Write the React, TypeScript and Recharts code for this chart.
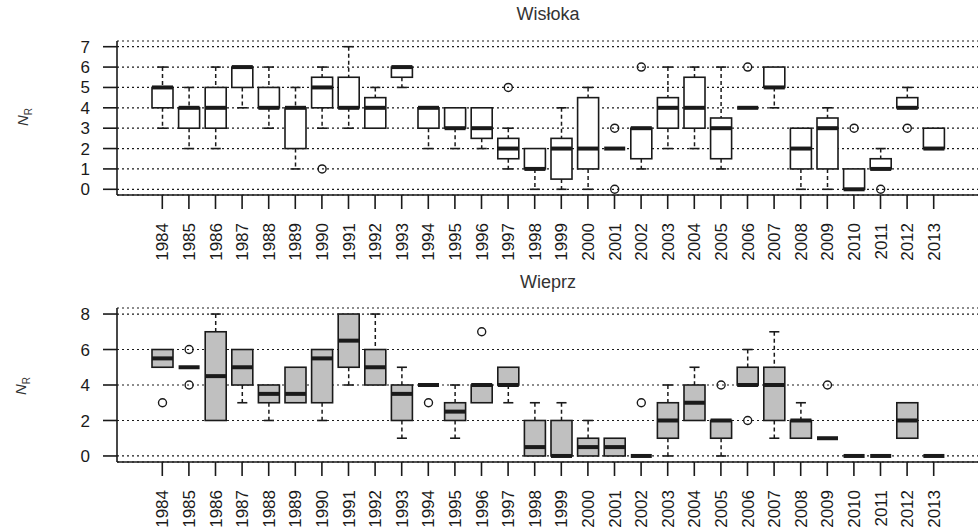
import React from 'react';
import { ComposedChart, Bar, XAxis, YAxis, CartesianGrid } from 'recharts';

const years = [
  '1984', '1985', '1986', '1987', '1988', '1989', '1990', '1991', '1992', '1993',
  '1994', '1995', '1996', '1997', '1998', '1999', '2000', '2001', '2002', '2003',
  '2004', '2005', '2006', '2007', '2008', '2009', '2010', '2011', '2012', '2013',
];

// Wisłoka
const wMin = [3, 2, 2, 4, 3, 1, 3, 3, 3, 5, 2, 2, 2, 1, 0, 0, 0, 2, 1, 2, 2, 1, 4, 4, 0, 0, 0, 1, 4, 2];
const wQ1 = [4, 3, 3, 5, 4, 2, 4, 4, 3, 5.5, 3, 3, 2.5, 1.5, 1, 0.5, 1, 2, 1.5, 3, 3, 1.5, 4, 5, 1, 1, 0, 1, 4, 2];
const wMed = [5, 4, 4, 6, 4, 4, 5, 4, 4, 6, 4, 3, 3, 2, 1, 2, 2, 2, 3, 4, 4, 3, 4, 5, 2, 3, 0, 1, 4, 2];
const wQ3 = [5, 4, 5, 6, 5, 4, 5.5, 5.5, 4.5, 6, 4, 4, 4, 2.5, 2, 2.5, 4.5, 2, 3, 4.5, 5.5, 3.5, 4, 6, 3, 3.5, 1, 1.5, 4.5, 3];
const wMax = [6, 5, 6, 6, 6, 5, 6, 7, 5, 6, 4, 4, 4, 3, 2, 4, 5, 2, 3, 6, 6, 6, 4, 6, 3, 4, 1, 2, 5, 3];
const wOut: number[][] = [
  [], [], [], [], [], [], [1], [], [], [], [], [], [], [5], [], [], [], [3, 0], [6], [],
  [], [], [6], [], [], [], [3], [0], [3], [],
];

// Wieprz
const pMin = [5, 5, 2, 3, 2, 3, 2, 4, 4, 1, 4, 1, 3, 3, 0, 0, 0, 0, 0, 0, 2, 0, 4, 1, 1, 1, 0, 0, 1, 0];
const pQ1 = [5, 5, 2, 4, 3, 3, 3, 5, 4, 2, 4, 2, 3, 4, 0, 0, 0, 0, 0, 1, 2, 1, 4, 2, 1, 1, 0, 0, 1, 0];
const pMed = [5.5, 5, 4.5, 5, 3.5, 3.5, 5.5, 6.5, 5, 3.5, 4, 2.5, 4, 4, 0.5, 0, 0.5, 0.5, 0, 2, 3, 2, 4, 4, 2, 1, 0, 0, 2, 0];
const pQ3 = [6, 5, 7, 6, 4, 5, 6, 8, 6, 4, 4, 3, 4, 5, 2, 2, 1, 1, 0, 3, 4, 2, 5, 5, 2, 1, 0, 0, 3, 0];
const pMax = [6, 5, 8, 6, 4, 5, 6, 8, 8, 5, 4, 4, 4, 5, 3, 3, 2, 1, 0, 4, 5, 2, 6, 7, 3, 1, 0, 0, 3, 0];
const pOut: number[][] = [
  [3], [6, 4], [], [], [], [], [], [], [], [], [3], [], [7], [], [], [], [], [], [3], [],
  [], [4], [2], [], [], [4], [], [], [], [],
];

const wTicks = [0, 1, 2, 3, 4, 5, 6, 7];
const pTicks = [0, 2, 4, 6, 8];

const FONT = '"Liberation Sans", Arial, sans-serif';
const INK = '#1a1a1a';

function buildRows(mn: number[], q1: number[], md: number[], q3: number[], mx: number[], out: number[][]) {
  return years.map((year, i) => ({
    year,
    box: [q1[i], q3[i]],
    med: [md[i], md[i]],
    hi: [q3[i], mx[i]],
    lo: [mn[i], q1[i]],
    o1: out[i].length > 0 ? [out[i][0], out[i][0]] : null,
    o2: out[i].length > 1 ? [out[i][1], out[i][1]] : null,
  }));
}

const wRows = buildRows(wMin, wQ1, wMed, wQ3, wMax, wOut);
const pRows = buildRows(pMin, pQ1, pMed, pQ3, pMax, pOut);

const boxShape = (fill: string) => (p: any) => (
  <rect x={p.x} y={p.y} width={p.width} height={Math.max(p.height, 0)} fill={fill} stroke={INK} strokeWidth={1.6} />
);

const medShape = (p: any) => (
  <line x1={p.x} x2={p.x + p.width} y1={p.y} y2={p.y} stroke={INK} strokeWidth={4} />
);

const hiShape = (p: any) => {
  if (!(p.height > 0.5)) return <g />;
  const cx = p.x + p.width / 2;
  const cap = p.width * 0.24;
  return (
    <g>
      <line x1={cx} x2={cx} y1={p.y} y2={p.y + p.height} stroke={INK} strokeWidth={1.5} strokeDasharray="4 3" />
      <line x1={cx - cap} x2={cx + cap} y1={p.y} y2={p.y} stroke={INK} strokeWidth={1.6} />
    </g>
  );
};

const loShape = (p: any) => {
  if (!(p.height > 0.5)) return <g />;
  const cx = p.x + p.width / 2;
  const cap = p.width * 0.24;
  const yb = p.y + p.height;
  return (
    <g>
      <line x1={cx} x2={cx} y1={p.y} y2={yb} stroke={INK} strokeWidth={1.5} strokeDasharray="4 3" />
      <line x1={cx - cap} x2={cx + cap} y1={yb} y2={yb} stroke={INK} strokeWidth={1.6} />
    </g>
  );
};

const outShape = (key: 'o1' | 'o2') => (p: any) => {
  if (!p.payload || p.payload[key] == null) return <g />;
  return <circle cx={p.x + p.width / 2} cy={p.y} r={4} fill="none" stroke={INK} strokeWidth={1.4} />;
};

const YearTick = (p: any) => (
  <text
    transform={`translate(${p.x + 6},${p.y + 14}) rotate(-90)`}
    textAnchor="end"
    fontSize={17}
    fill={INK}
    fontFamily={FONT}
  >
    {p.payload.value}
  </text>
);

interface PanelProps {
  rows: any[];
  ticks: number[];
  domain: [number, number];
  fill: string;
}

function Panel({ rows, ticks, domain, fill }: PanelProps) {
  const line = { stroke: INK, strokeWidth: 1.6 };
  return (
    <ComposedChart
      width={990}
      height={290}
      data={rows}
      margin={{ top: 41, right: 11, left: 57, bottom: 15 }}
      barGap={-21}
    >
      <CartesianGrid vertical={false} stroke={INK} strokeWidth={1.2} strokeDasharray="2 3" />
      <XAxis
        dataKey="year"
        interval={0}
        height={80}
        padding={{ left: 32, right: 32 }}
        tickSize={14}
        tickMargin={0}
        tickLine={line}
        axisLine={line}
        tick={YearTick}
      />
      <XAxis
        xAxisId="top"
        dataKey="year"
        orientation="top"
        height={0}
        padding={{ left: 32, right: 32 }}
        tick={false}
        tickLine={false}
        axisLine={line}
      />
      <YAxis
        type="number"
        domain={domain}
        ticks={ticks}
        interval={0}
        width={60}
        tickSize={14}
        tickMargin={13}
        tickLine={line}
        axisLine={line}
        tick={{ fontSize: 17, fill: INK, fontFamily: FONT }}
        allowDataOverflow
      />
      <YAxis
        yAxisId="right"
        orientation="right"
        type="number"
        domain={domain}
        width={0}
        tick={false}
        tickLine={false}
        axisLine={line}
        allowDataOverflow
      />
      <Bar dataKey="lo" barSize={21} shape={loShape} isAnimationActive={false} />
      <Bar dataKey="hi" barSize={21} shape={hiShape} isAnimationActive={false} />
      <Bar dataKey="box" barSize={21} shape={boxShape(fill)} isAnimationActive={false} />
      <Bar dataKey="med" barSize={21} shape={medShape} isAnimationActive={false} />
      <Bar dataKey="o1" barSize={21} shape={outShape('o1')} isAnimationActive={false} />
      <Bar dataKey="o2" barSize={21} shape={outShape('o2')} isAnimationActive={false} />
    </ComposedChart>
  );
}

const titleStyle: React.CSSProperties = {
  position: 'absolute',
  left: 117,
  width: 862,
  textAlign: 'center',
  fontFamily: FONT,
  fontSize: 18,
  lineHeight: '18px',
  color: '#333',
};

const ylabStyle: React.CSSProperties = {
  position: 'absolute',
  fontFamily: FONT,
  fontSize: 15,
  color: '#333',
  transform: 'translate(-50%, -50%) rotate(-90deg)',
  whiteSpace: 'nowrap',
};

export default function App() {
  return (
    <div
      style={{
        position: 'absolute',
        left: 0,
        top: 0,
        width: 978,
        height: 531,
        overflow: 'hidden',
        background: '#fff',
      }}
    >
      <div style={{ ...titleStyle, top: 5 }}>Wisłoka</div>
      <div style={{ ...titleStyle, top: 273 }}>Wieprz</div>
      <div style={{ ...ylabStyle, left: 24, top: 117 }}>
        <i>N</i>
        <sub style={{ fontSize: 10 }}>R</sub>
      </div>
      <div style={{ ...ylabStyle, left: 22, top: 386 }}>
        <i>N</i>
        <sub style={{ fontSize: 10 }}>R</sub>
      </div>
      <div style={{ position: 'absolute', left: 0, top: 0 }}>
        <Panel rows={wRows} ticks={wTicks} domain={[-0.28, 7.28]} fill="#ffffff" />
      </div>
      <div style={{ position: 'absolute', left: 0, top: 267 }}>
        <Panel rows={pRows} ticks={pTicks} domain={[-0.34, 8.34]} fill="#c0c0c0" />
      </div>
    </div>
  );
}
